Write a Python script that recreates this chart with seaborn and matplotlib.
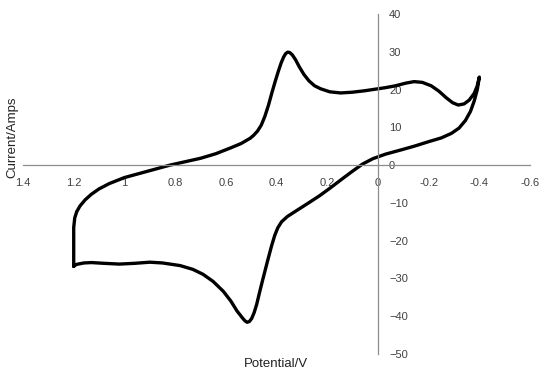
import numpy as np
import pandas as pd
import matplotlib
matplotlib.use("Agg")
import matplotlib.pyplot as plt
import seaborn as sns

# cyclic voltammogram (one closed loop)
potential = [1.200, 1.190, 1.160, 1.130, 1.080, 1.020, 0.960, 0.900, 0.850, 0.780,
             0.730, 0.690, 0.650, 0.610, 0.580, 0.556, 0.535, 0.525, 0.516, 0.507, 0.498, 0.488,
             0.478, 0.468, 0.455, 0.437, 0.420, 0.407, 0.395, 0.380, 0.357, 0.320, 0.278, 0.230,
             0.187, 0.140, 0.100, 0.060, 0.020, -0.030, -0.090, -0.143, -0.200, -0.250,
             -0.290, -0.320, -0.345, -0.365, -0.380, -0.392, -0.400,
             -0.392, -0.380, -0.360, -0.340, -0.317, -0.295, -0.270, -0.240, -0.210,
             -0.175, -0.143, -0.110, -0.070, -0.030, 0.000, 0.050, 0.100, 0.147, 0.190,
             0.226, 0.250, 0.272, 0.292, 0.310, 0.325, 0.338, 0.348, 0.356, 0.364, 0.372, 0.382,
             0.393, 0.405, 0.418, 0.432, 0.446, 0.460, 0.475, 0.490, 0.504, 0.540, 0.583,
             0.640, 0.700, 0.760, 0.820, 0.880, 0.940, 1.000, 1.060, 1.100, 1.130, 1.155,
             1.175, 1.188, 1.196, 1.200, 1.200, 1.200]
current = [-26.8, -26.3, -25.9, -25.8, -26.0, -26.2, -26.0, -25.7, -25.9, -26.6,
           -27.6, -28.9, -30.8, -33.4, -36.0, -38.6, -40.4, -41.2, -41.6, -41.4, -40.6, -39.0,
           -36.8, -34.0, -30.5, -25.8, -21.5, -18.6, -16.6, -15.0, -13.6, -12.0, -10.2, -8.1,
           -6.0, -3.6, -1.6, 0.3, 1.7, 2.9, 4.0, 5.0, 6.2, 7.2,
           8.4, 9.8, 11.8, 14.2, 17.0, 20.0, 23.3,
           21.0, 19.0, 17.2, 16.2, 15.9, 16.5, 17.8, 19.6, 21.0,
           21.9, 22.1, 21.7, 21.0, 20.5, 20.2, 19.7, 19.3, 19.1, 19.4,
           20.2, 21.0, 22.3, 24.0, 26.0, 27.9, 29.2, 29.8, 29.9, 29.5, 28.6, 27.0,
           24.8, 22.2, 19.2, 15.8, 12.9, 10.6, 9.0, 7.9, 7.1, 5.7, 4.5,
           3.0, 1.8, 0.9, 0.0, -1.1, -2.2, -3.3, -4.9, -6.3, -7.7, -9.2,
           -10.8, -12.3, -14.0, -16.5, -22.0, -26.8]

x_ticks = [1.4, 1.2, 1.0, 0.8, 0.6, 0.4, 0.2, 0.0, -0.2, -0.4, -0.6]
x_labels = ["1.4", "1.2", "1", "0.8", "0.6", "0.4", "0.2", "0", "-0.2", "-0.4", "-0.6"]
y_ticks = [-50, -40, -30, -20, -10, 0, 10, 20, 30, 40]

df = pd.DataFrame({"Potential": potential, "Current": current})

sns.set_style("white")
plt.rcParams["font.family"] = ["Liberation Sans", "DejaVu Sans"]

fig = plt.figure(figsize=(5.44, 3.75), dpi=100)
ax = fig.add_axes([0.0423, 0.056, 0.932, 0.9067])

sns.lineplot(data=df, x="Potential", y="Current", sort=False, estimator=None,
             color="black", linewidth=2.4, ax=ax)
ax.lines[0].set_solid_joinstyle("round")
ax.lines[0].set_solid_capstyle("round")

ax.set_xlim(1.4, -0.6)
ax.set_ylim(-50, 40)

# axes cross at the origin
ax.spines["left"].set_visible(False)
ax.spines["top"].set_visible(False)
ax.spines["right"].set_position(("data", 0))
ax.spines["bottom"].set_position(("data", 0))
for s in ["right", "bottom"]:
    ax.spines[s].set_color("#8c8c8c")
    ax.spines[s].set_linewidth(0.9)

ax.yaxis.tick_right()
ax.set_xticks(x_ticks)
ax.set_xticklabels(x_labels)
ax.set_yticks(y_ticks)
ax.tick_params(axis="x", length=0, pad=9, labelsize=8, labelcolor="#404040")
ax.tick_params(axis="y", length=0, pad=8, labelsize=8, labelcolor="#404040")
for lab in ax.get_yticklabels():
    lab.set_horizontalalignment("left")

ax.set_xlabel("")
ax.set_ylabel("")
# nudged up a little so it clears the "1.4" tick label
fig.text(0.022, 0.635, "Current/Amps", rotation=90, ha="center", va="center",
         fontsize=9.5, color="#222222")
fig.text(0.507, 0.029, "Potential/V", ha="center", va="center",
         fontsize=9.5, color="#222222")

fig.savefig("out.png", dpi=100)
